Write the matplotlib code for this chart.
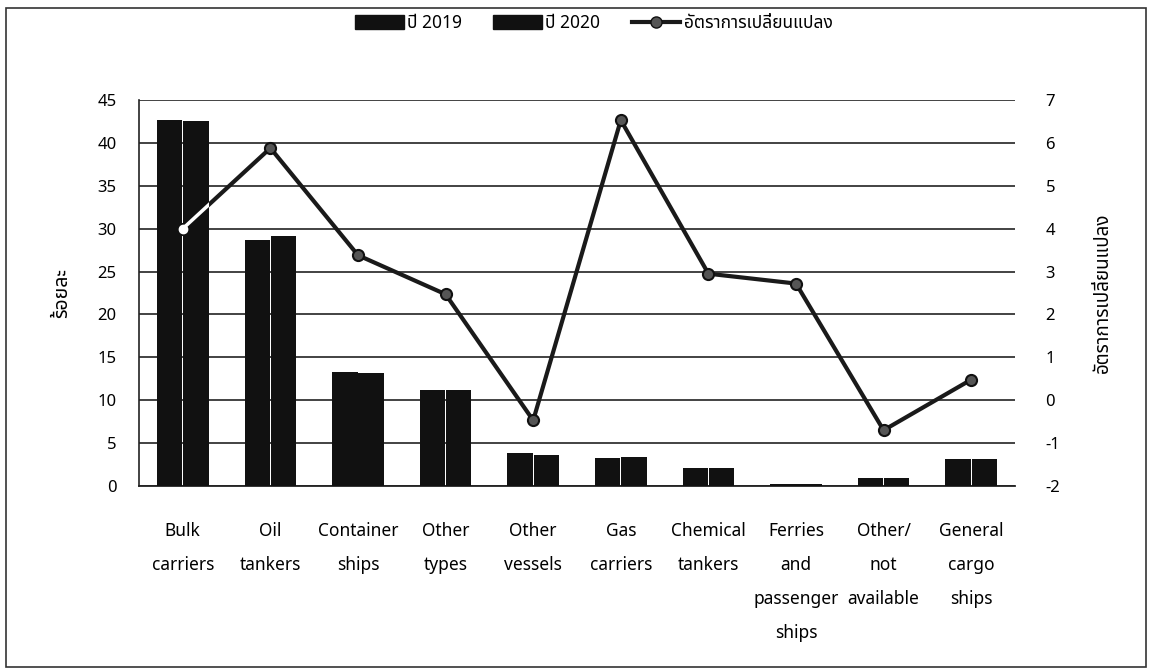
import matplotlib
matplotlib.use("Agg")
import matplotlib.pyplot as plt
import numpy as np
from matplotlib.patches import Patch, Rectangle
from matplotlib.lines import Line2D

plt.rcParams['font.family'] = ['Noto Sans', 'Noto Sans Thai', 'DejaVu Sans']
plt.rcParams['axes.unicode_minus'] = False

categories = ["Bulk\ncarriers", "Oil\ntankers", "Container\nships", "Other\ntypes",
              "Other\nvessels", "Gas\ncarriers", "Chemical\ntankers",
              "Ferries\nand\npassenger\nships", "Other/\nnot\navailable",
              "General\ncargo\nships"]
share_2019 = [42.7, 28.7, 13.3, 11.2, 3.9, 3.3, 2.15, 0.2, 0.95, 3.2]
share_2020 = [42.6, 29.2, 13.2, 11.2, 3.65, 3.4, 2.15, 0.2, 0.95, 3.15]
change_rate = [4.0, 5.88, 3.38, 2.47, -0.47, 6.53, 2.95, 2.72, -0.70, 0.48]

label_2019 = "ปี 2019"
label_2020 = "ปี 2020"
label_rate = "อัตราการเปลี่ยนแปลง"
ylabel_left = "ร้อยละ"
ylabel_right = "อัตราการเปลี่ยนแปลง"

W, H = 1153, 672
fig = plt.figure(figsize=(W / 100, H / 100), dpi=100)
ax = fig.add_axes([139 / W, 1 - 486 / H, (1015 - 139) / W, (486 - 100) / H])
ax2 = ax.twinx()

x = np.arange(len(categories))
bw = 0.29
bars1 = ax.bar(x - 0.15, share_2019, bw, color="#111111", linewidth=0, zorder=3)
bars2 = ax.bar(x + 0.15, share_2020, bw, color="#111111", linewidth=0, zorder=3)

ax.set_xlim(-0.5, len(categories) - 0.5)
ax.set_ylim(0, 45)
ax.set_yticks(np.arange(0, 46, 5))
ax.grid(axis="y", color="#222222", linewidth=1.2, zorder=0)
ax.set_axisbelow(True)
ax.set_xticks(x)
ax.set_xticklabels(categories, fontsize=12.5, linespacing=2.13, va="top")
ax.tick_params(axis="x", length=0, pad=26)
ax.tick_params(axis="y", length=0, pad=16, labelsize=12)
for s in ["top", "right"]:
    ax.spines[s].set_visible(False)
ax.spines["left"].set_color("#222222")
ax.spines["bottom"].set_color("#222222")
ax.spines["left"].set_linewidth(1.2)
ax.spines["bottom"].set_linewidth(1.3)
ax.set_ylabel(ylabel_left, fontsize=14, fontweight="bold", labelpad=18)

ax2.set_ylim(-2, 7)
ax2.set_yticks(np.arange(-2, 8, 1))
ax2.tick_params(axis="y", length=0, pad=22, labelsize=12)
for s in ["top", "right", "left", "bottom"]:
    ax2.spines[s].set_visible(False)
ax2.set_ylabel(ylabel_right, fontsize=13.5, rotation=90, labelpad=24)

ax2.plot(x, change_rate, color="#1a1a1a", linewidth=3, marker="o", markersize=8,
         markerfacecolor="#555555", markeredgecolor="#111111", markeredgewidth=1.5, zorder=5)
# where the line crosses the black bars it shows light
for b in list(bars1) + list(bars2):
    ln, = ax2.plot(x, change_rate, color="white", linewidth=2.5, marker="o", markersize=6,
                   markerfacecolor="white", markeredgecolor="white", zorder=6)
    ln.set_clip_path(b)

handles = [Patch(facecolor="#111111", edgecolor="#111111"),
           Patch(facecolor="#111111", edgecolor="#111111"),
           Line2D([], [], color="#1a1a1a", linewidth=3, marker="o", markersize=8,
                  markerfacecolor="#555555", markeredgecolor="#111111")]
fig.legend(handles, [label_2019, label_2020, label_rate], loc="center",
           bbox_to_anchor=(0.515, 1 - 23 / H), ncol=3, frameon=False, fontsize=12.5,
           handlelength=2.8, handleheight=0.8, handletextpad=0.2, columnspacing=1.8)

fig.patches.append(Rectangle((6 / W, 1 - 667 / H), 1140 / W, 659 / H, transform=fig.transFigure,
                             fill=False, edgecolor="#333333", linewidth=1.2))

fig.savefig("out.png", dpi=100)
